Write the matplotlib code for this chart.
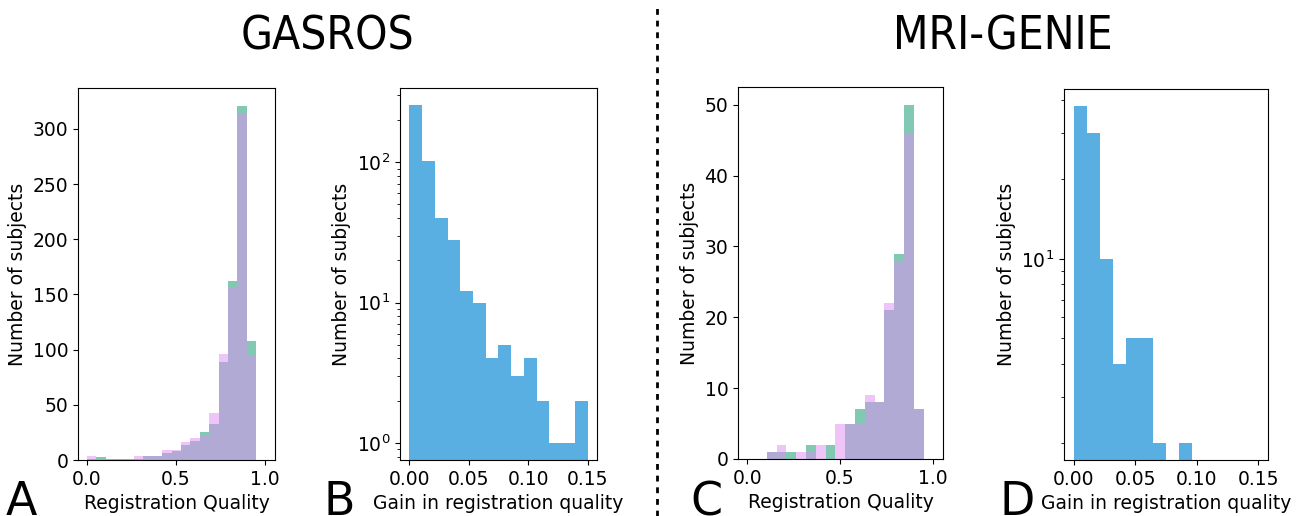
import matplotlib
matplotlib.use("Agg")
import matplotlib.pyplot as plt
import numpy as np
from matplotlib.lines import Line2D

# registration quality bins (18 bins, 0 .. 0.95)
quality_edges = np.linspace(0, 0.95, 19)
gasros_green = [1, 3, 1, 1, 1, 1, 4, 4, 6, 8, 14, 17, 25, 33, 89, 162, 321, 108]
gasros_pink = [4, 1, 1, 0, 1, 4, 4, 4, 9, 9, 16, 20, 22, 43, 96, 156, 313, 94]
genie_green = [0, 0, 1, 1, 1, 0, 2, 0, 2, 0, 5, 7, 8, 8, 21, 29, 50, 7]
genie_pink = [0, 0, 1, 2, 0, 1, 1, 2, 0, 5, 5, 5, 9, 8, 22, 28, 46, 7]

# gain bins (14 bins, 0 .. 0.15)
gain_edges = np.linspace(0, 0.15, 15)
gasros_gain = [256, 102, 40, 28, 12, 10, 4, 5, 3, 4, 2, 1, 1, 2]
genie_gain = [38, 30, 10, 4, 5, 5, 2, 0, 2, 0, 0, 0, 0, 0]

green = "#1b9e77"
pink = "#e08cf5"
blue = "#5aafe2"
fs = 13.5

W, H = 1306, 516
fig = plt.figure(figsize=(W / 100, H / 100), dpi=100)


def box(l, t, r, b):
    return [l / W, 1 - b / H, (r - l) / W, (b - t) / H]


def quality_hist(ax, g, p, ymax):
    centers = (quality_edges[:-1] + quality_edges[1:]) / 2
    ax.hist(centers, bins=quality_edges, weights=g, color=green, alpha=0.55)
    ax.hist(centers, bins=quality_edges, weights=p, color=pink, alpha=0.5)
    ax.set_xlim(-0.05, 1.055)
    ax.set_ylim(0, ymax)
    ax.set_xticks([0.0, 0.5, 1.0])
    ax.set_xlabel("Registration Quality", fontsize=fs)
    ax.set_ylabel("Number of subjects", fontsize=fs)
    ax.tick_params(labelsize=fs)


def gain_hist(ax, counts, ylim):
    centers = (gain_edges[:-1] + gain_edges[1:]) / 2
    ax.hist(centers, bins=gain_edges, weights=counts, color=blue)
    ax.set_yscale("log")
    ax.set_xlim(-0.0078, 0.1578)
    ax.set_ylim(*ylim)
    ax.set_xticks([0.0, 0.05, 0.10, 0.15])
    ax.set_xlabel("Gain in registration quality", fontsize=fs)
    ax.set_ylabel("Number of subjects", fontsize=fs)
    ax.tick_params(labelsize=fs)


axA = fig.add_axes(box(78, 88, 275, 460))
quality_hist(axA, gasros_green, gasros_pink, 337)

axB = fig.add_axes(box(400, 88, 597, 460))
gain_hist(axB, gasros_gain, (0.757, 337))

axC = fig.add_axes(box(738, 87, 943, 459))
quality_hist(axC, genie_green, genie_pink, 52.5)

axD = fig.add_axes(box(1064, 89, 1268, 460))
gain_hist(axD, genie_gain, (1.73, 44))

# titles
fig.text(327 / W, 1 - 49 / H, "GASROS", fontsize=33, ha="center", va="baseline",
         family="DejaVu Sans", fontstretch="condensed")
fig.text(1003 / W, 1 - 49 / H, "MRI-GENIE", fontsize=33, ha="center", va="baseline",
         family="DejaVu Sans", fontstretch="condensed")

# panel letters
for letter, x in zip(["A", "B", "C", "D"], [6, 323, 690, 999]):
    fig.text(x / W, 1 / H, letter, fontsize=33, ha="left", va="baseline")

# divider
fig.add_artist(Line2D([657 / W, 657 / W], [0, 1 - 7 / H], transform=fig.transFigure,
                      color="black", lw=2, linestyle=(0, (2.1, 2.1))))

fig.savefig("out.png", dpi=100)
